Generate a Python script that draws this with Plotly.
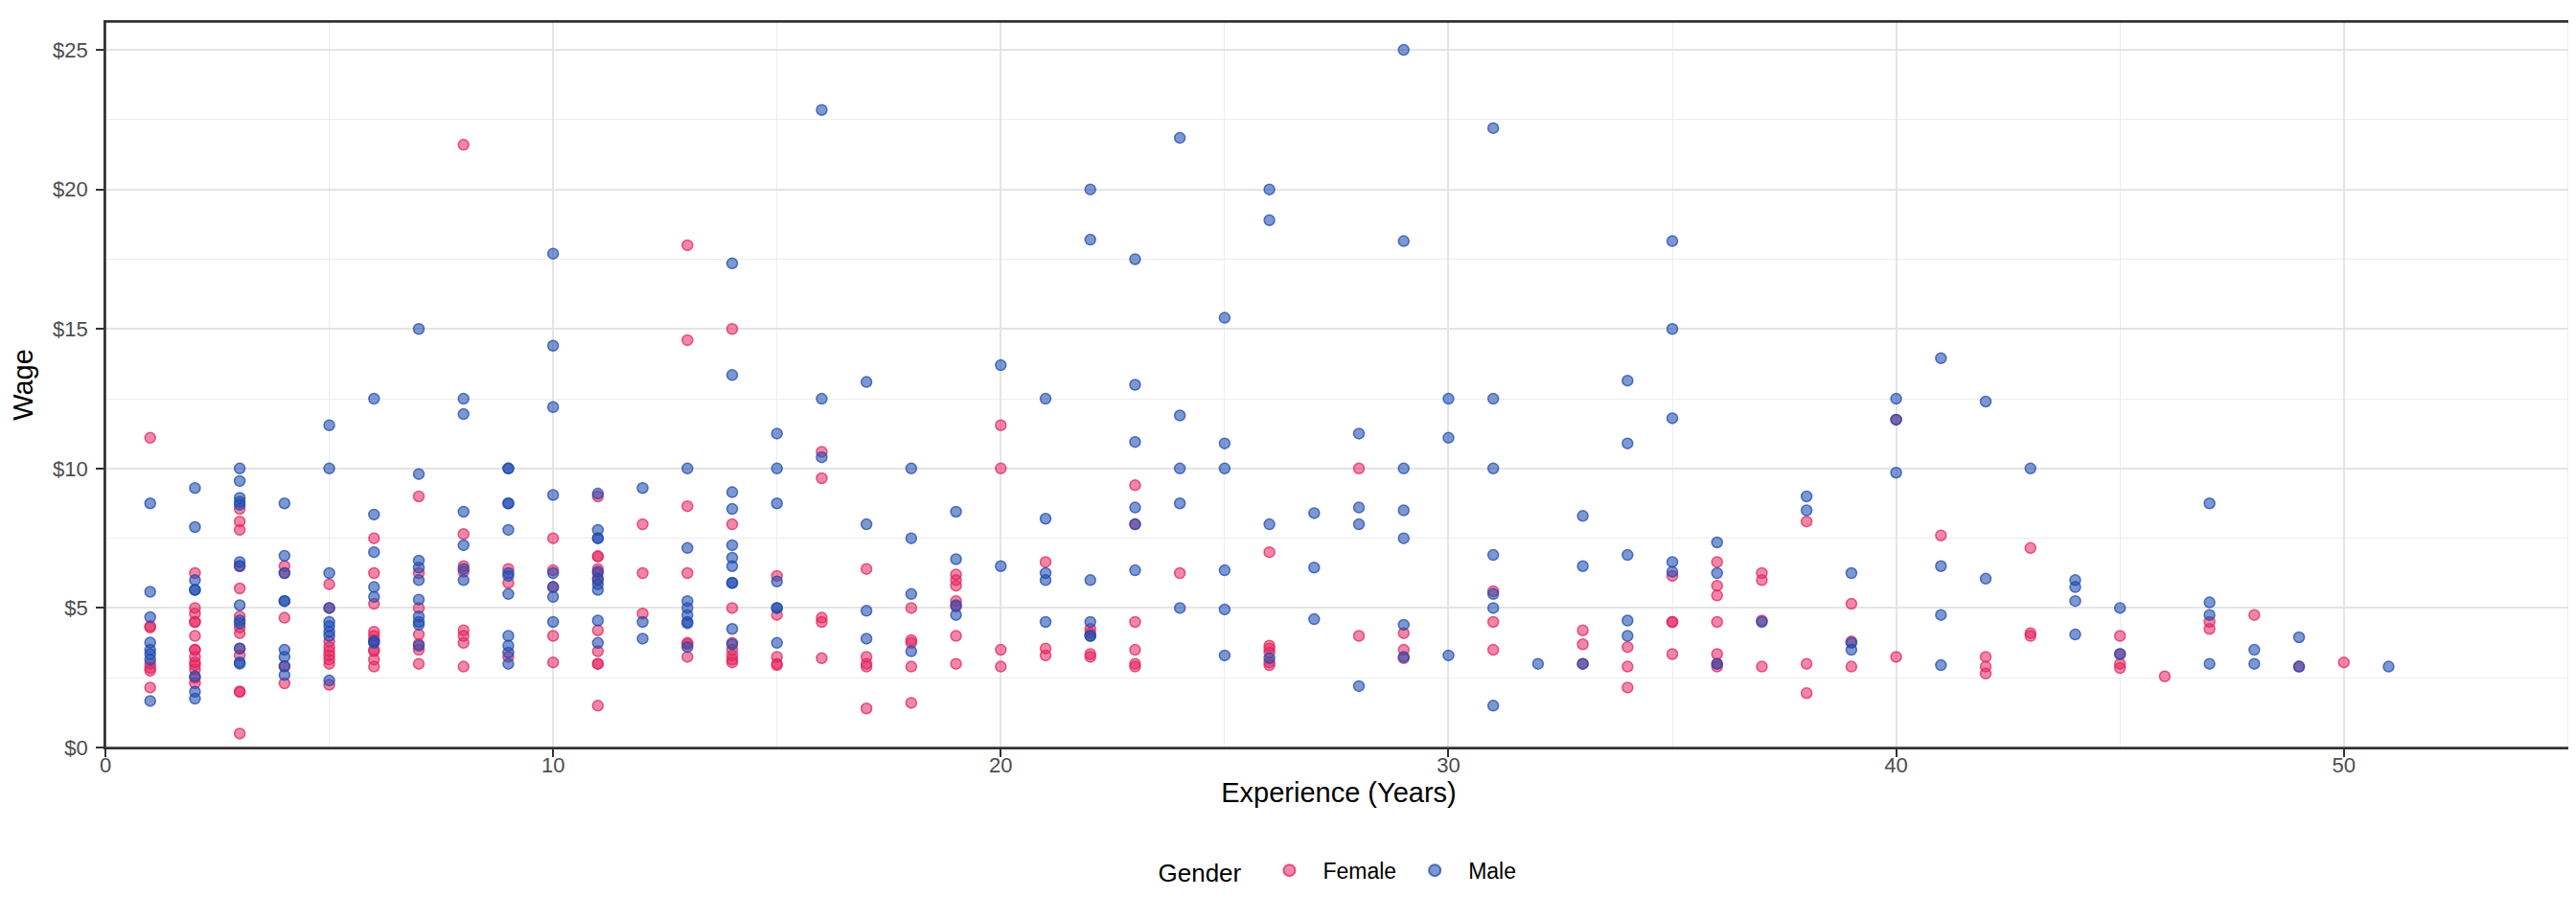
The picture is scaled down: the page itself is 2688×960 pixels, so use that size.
import plotly.graph_objects as go

# Experience (years) and hourly wages, grouped by experience value
female_years = [1, 2, 3, 4, 5, 6, 7, 8, 9, 10, 11, 12, 13, 14, 15, 16, 17, 18, 19, 20,
                21, 22, 23, 24, 26, 28, 29, 31, 33, 34, 35, 36, 37, 38, 39, 40, 41, 42,
                43, 45, 46, 47, 48, 49, 50]
female_wages = [
    [11.1, 4.35, 4.3, 3.0, 2.85, 2.75, 2.15],
    [6.25, 5.0, 4.8, 4.5, 4.5, 4.0, 3.5, 3.5, 3.25, 3.05, 2.95, 2.8, 2.5, 2.3],
    [8.55, 8.1, 7.8, 6.5, 5.7, 4.7, 4.3, 4.1, 3.55, 3.3, 2.0, 2.0, 0.5],
    [6.5, 6.25, 4.65, 2.9, 2.3],
    [5.85, 5.0, 3.8, 3.6, 3.45, 3.3, 3.15, 3.0, 2.25],
    [7.5, 6.25, 5.15, 4.15, 4.0, 3.85, 3.5, 3.45, 3.15, 2.9],
    [9.0, 6.25, 5.0, 4.05, 3.7, 3.5, 3.0],
    [21.6, 7.65, 6.5, 6.3, 4.2, 4.0, 3.75, 2.9],
    [6.4, 5.9, 3.25],
    [7.5, 6.35, 5.75, 4.0, 3.05],
    [9.0, 6.85, 6.85, 6.4, 6.25, 6.0, 4.2, 3.45, 3.0, 3.0, 1.5],
    [8.0, 6.25, 4.8],
    [18.0, 14.6, 8.65, 6.25, 3.75, 3.7, 3.25],
    [15.0, 8.0, 5.0, 3.75, 3.5, 3.3, 3.15, 3.05],
    [6.15, 4.75, 3.25, 3.0, 2.95],
    [10.6, 9.65, 4.65, 4.5, 3.2],
    [6.4, 3.25, 3.0, 2.9, 1.4],
    [5.0, 3.85, 3.75, 2.9, 1.6],
    [6.2, 6.0, 5.8, 5.25, 5.05, 4.0, 3.0],
    [11.55, 10.0, 3.5, 2.9],
    [6.65, 3.55, 3.3],
    [4.25, 4.1, 3.35, 3.25],
    [9.4, 8.0, 4.5, 3.5, 3.0, 2.9],
    [6.25],
    [7.0, 3.65, 3.55, 3.4, 3.05, 2.95],
    [10.0, 4.0],
    [4.1, 3.5, 3.2],
    [5.6, 4.5, 3.5],
    [4.2, 3.7, 3.0],
    [3.6, 2.9, 2.15],
    [6.15, 4.5, 4.5, 3.35],
    [6.65, 5.8, 5.45, 4.5, 3.35, 3.0, 2.9],
    [6.25, 6.0, 4.55, 2.9],
    [8.1, 3.0, 1.95],
    [5.15, 3.8, 2.9],
    [11.75, 3.25],
    [7.6],
    [3.25, 2.9, 2.65],
    [7.15, 4.1, 4.0],
    [4.0, 3.35, 3.0, 2.85],
    [2.55],
    [4.5, 4.25],
    [4.75],
    [2.9],
    [3.05],
]

male_years = [1, 2, 3, 4, 5, 6, 7, 8, 9, 10, 11, 12, 13, 14, 15, 16, 17, 18, 19, 20,
              21, 22, 23, 24, 25, 26, 27, 28, 29, 30, 31, 32, 33, 34, 35, 36, 37, 38,
              39, 40, 41, 42, 43, 44, 45, 47, 48, 49, 51]
male_wages = [
    [8.75, 5.58, 4.67, 3.76, 3.5, 3.35, 3.15, 1.67],
    [9.3, 7.9, 6.0, 5.65, 5.65, 2.55, 2.0, 1.75],
    [10.0, 9.55, 8.95, 8.8, 8.7, 6.65, 6.5, 5.1, 4.55, 4.45, 3.55, 3.05, 3.0],
    [8.75, 6.87, 6.25, 5.25, 5.25, 3.5, 3.25, 2.92, 2.6],
    [11.55, 10.0, 6.25, 5.0, 4.5, 4.35, 4.15, 4.0, 2.4],
    [12.5, 8.35, 7.0, 5.75, 5.4, 3.8, 3.75],
    [15.0, 9.8, 6.7, 6.45, 6.0, 5.3, 4.7, 4.5, 4.4, 3.65],
    [12.5, 11.95, 8.45, 7.25, 6.4, 6.0],
    [10.0, 10.0, 8.75, 8.75, 7.8, 6.25, 6.15, 5.5, 4.0, 3.65, 3.4, 3.0],
    [17.7, 14.4, 12.2, 9.05, 6.25, 5.75, 5.4, 4.5],
    [9.1, 7.8, 7.5, 7.5, 6.3, 6.05, 5.85, 5.65, 4.55, 3.75],
    [9.3, 4.5, 3.9],
    [10.0, 7.15, 5.25, 5.0, 4.75, 4.5, 4.45, 3.6],
    [17.35, 13.35, 9.15, 8.55, 7.25, 6.8, 6.5, 5.9, 5.9, 4.25, 3.7],
    [11.25, 10.0, 8.75, 5.95, 5.0, 5.0, 3.75],
    [22.85, 12.5, 10.4],
    [13.1, 8.0, 4.9, 3.9],
    [10.0, 7.5, 5.5, 3.45],
    [8.45, 6.75, 5.1, 4.75],
    [13.7, 6.5],
    [12.5, 8.2, 6.25, 6.0, 4.5],
    [20.0, 18.2, 6.0, 4.5, 4.0, 4.0],
    [17.5, 13.0, 10.95, 8.6, 8.0, 6.35],
    [21.85, 11.9, 10.0, 8.75, 5.0],
    [15.4, 10.9, 10.0, 6.35, 4.95, 3.3],
    [20.0, 18.9, 8.0, 3.2],
    [8.4, 6.45, 4.6],
    [11.25, 8.6, 8.0, 2.2],
    [25.0, 18.15, 10.0, 8.5, 7.5, 4.4, 3.25],
    [12.5, 11.1, 3.3],
    [22.2, 12.5, 10.0, 6.9, 5.5, 5.0, 1.5],
    [3.0],
    [8.3, 6.5, 3.0],
    [13.15, 10.9, 6.9, 4.55, 4.0],
    [18.15, 15.0, 11.8, 6.65, 6.3],
    [7.35, 6.25, 3.0],
    [4.5],
    [9.0, 8.5],
    [6.25, 3.75, 3.5],
    [12.5, 11.75, 9.85],
    [13.95, 6.5, 4.75, 2.95],
    [12.4, 6.05],
    [10.0],
    [6.0, 5.75, 5.25, 4.05],
    [5.0, 3.35],
    [8.75, 5.2, 4.75, 3.0],
    [3.5, 3.0],
    [3.95, 2.9],
    [2.9],
]

x_ticks = [0, 10, 20, 30, 40, 50]
y_ticks = [0, 5, 10, 15, 20, 25]
y_tick_labels = ["$0", "$5", "$10", "$15", "$20", "$25"]


def expand(years, groups):
    xs, ys = [], []
    for yr, ws in zip(years, groups):
        for w in ws:
            xs.append(yr)
            ys.append(w)
    return xs, ys


fx, fy = expand(female_years, female_wages)
mx, my = expand(male_years, male_wages)

FONT = "Liberation Sans, Arial, sans-serif"

fig = go.Figure()
fig.add_trace(go.Scatter(
    x=fx, y=fy, mode="markers", name="Female",
    marker=dict(size=11, color="rgba(227,36,95,0.55)",
                line=dict(color="rgba(227,36,95,0.75)", width=1.5)),
))
fig.add_trace(go.Scatter(
    x=mx, y=my, mode="markers", name="Male",
    marker=dict(size=11, color="rgba(31,75,176,0.58)",
                line=dict(color="rgba(31,75,176,0.75)", width=1.5)),
))

axis_common = dict(
    showline=True, linecolor="#333333", linewidth=1.6, mirror=True,
    ticks="outside", ticklen=8, tickwidth=1.6, tickcolor="#333333",
    tickfont=dict(family=FONT, size=22, color="#4D4D4D"),
    showgrid=True, gridcolor="#E4E4E4", gridwidth=2.2,
    zeroline=False, tickmode="array",
)

fig.update_xaxes(
    **axis_common,
    range=[0, 55.1], tickvals=x_ticks, ticktext=[str(v) for v in x_ticks],
    ticklabelstandoff=-10,
    minor=dict(showgrid=True, dtick=5, tick0=0, gridcolor="#EDEDED", gridwidth=1.2,
               ticks=""),
    title=dict(text="Experience (Years)", font=dict(family=FONT, size=29, color="black"),
               standoff=4),
)
fig.update_yaxes(
    **axis_common,
    range=[0, 26], tickvals=y_ticks, ticktext=y_tick_labels,
    ticklabelstandoff=4,
    minor=dict(showgrid=True, dtick=2.5, tick0=0, gridcolor="#EDEDED", gridwidth=1.2,
               ticks=""),
    title=dict(text="Wage", font=dict(family=FONT, size=29, color="black"), standoff=12),
)

# panel border (all four sides)
fig.add_shape(type="rect", xref="paper", yref="paper", x0=0, x1=1, y0=0, y1=1,
              line=dict(color="#333333", width=1.6), fillcolor="rgba(0,0,0,0)",
              layer="above")

fig.update_layout(
    width=2688, height=960,
    margin=dict(l=102, r=10, t=15, b=188),
    plot_bgcolor="white", paper_bgcolor="white",
    font=dict(family=FONT, color="black"),
    legend=dict(
        orientation="h", x=0.5, xanchor="center", y=-0.17, yanchor="middle",
        title=dict(text="Gender ", font=dict(family=FONT, size=26, color="black")),
        font=dict(family=FONT, size=23, color="black"),
        itemsizing="constant", itemwidth=60,
    ),
)

fig.write_html("out.html")
